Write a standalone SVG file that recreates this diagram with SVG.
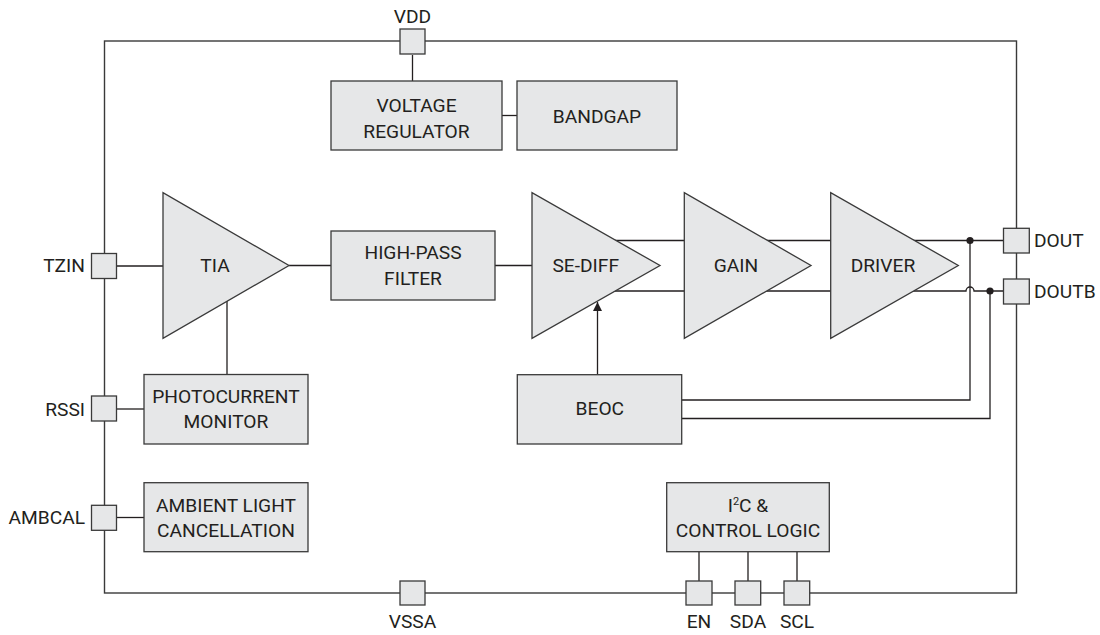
<svg xmlns="http://www.w3.org/2000/svg" width="1100" height="635" viewBox="0 0 1100 635">
<defs>
<style>
.blk{fill:#e6e7e8;stroke:#3a3a3a;stroke-width:1.3}
.pad{fill:#e6e7e8;stroke:#3a3a3a;stroke-width:1.3}
.w{fill:none;stroke:#231f20;stroke-width:1.3}
.b{fill:none;stroke:#3a3a3a;stroke-width:1.4}
text{font-family:Roboto,"Liberation Sans",sans-serif;font-size:19.2px;fill:#231f20}
.c{text-anchor:middle}
.e{text-anchor:end}
</style>
<marker id="arr" viewBox="0 0 10 10" refX="10" refY="5" markerWidth="9" markerHeight="9" markerUnits="userSpaceOnUse" orient="auto">
<path d="M0,0 L10,5 L0,10 z" fill="#231f20"/>
</marker>
</defs>
<rect x="0" y="0" width="1100" height="635" fill="#ffffff"/>
<g id="connectors">
<rect class="b" x="104.5" y="41" width="912" height="552"/>
<line class="w" x1="412.5" y1="55" x2="412.5" y2="81"/>
<line class="w" x1="502" y1="115.5" x2="517" y2="115.5"/>
<line class="w" x1="117" y1="266" x2="163" y2="266"/>
<line class="w" x1="289" y1="265.5" x2="331" y2="265.5"/>
<line class="w" x1="495" y1="265.5" x2="532" y2="265.5"/>
<line class="w" x1="227" y1="301" x2="227" y2="374.5"/>
<line class="w" x1="117" y1="409" x2="144" y2="409"/>
<line class="w" x1="117" y1="517.5" x2="144" y2="517.5"/>
<line class="w" x1="600" y1="240.5" x2="1004" y2="240.5"/>
<path class="w" d="M600,291 H966 A4,4 0 0 1 974,291 H1004"/>
<circle cx="970" cy="240.5" r="3.6" fill="#231f20"/>
<circle cx="990" cy="291" r="3.6" fill="#231f20"/>
<path class="w" d="M970,240.5 V400 H682"/>
<path class="w" d="M990,291 V418.5 H682"/>
<line class="w" x1="597.5" y1="374.5" x2="597.5" y2="302" marker-end="url(#arr)"/>
<line class="w" x1="699" y1="552" x2="699" y2="581"/>
<line class="w" x1="748" y1="552" x2="748" y2="581"/>
<line class="w" x1="797" y1="552" x2="797" y2="581"/>
</g>
<g id="vreg"><rect class="blk" x="331" y="81" width="171" height="69"/><text class="c" x="416.5" y="111.5">VOLTAGE</text><text class="c" x="416.5" y="137.5">REGULATOR</text></g>
<g id="bandgap"><rect class="blk" x="517" y="81" width="160" height="69"/><text class="c" x="597" y="122.5">BANDGAP</text></g>
<g id="tia"><polygon class="blk" points="163,192.7 163,338.3 289,265.5"/><text class="c" x="215" y="272">TIA</text></g>
<g id="hpf"><rect class="blk" x="331" y="231" width="164" height="69"/><text class="c" x="413" y="259">HIGH-PASS</text><text class="c" x="413" y="285.3">FILTER</text></g>
<g id="sediff"><polygon class="blk" points="532,192.7 532,338.3 660,265.5"/><text class="c" x="585.7" y="272">SE-DIFF</text></g>
<g id="gain"><polygon class="blk" points="684.3,192.7 684.3,338.3 811,265.5"/><text class="c" x="736" y="272">GAIN</text></g>
<g id="driver"><polygon class="blk" points="830.7,192.7 830.7,338.3 958.3,265.5"/><text class="c" x="883" y="272">DRIVER</text></g>
<g id="pcm"><rect class="blk" x="144" y="374.5" width="164" height="69.5"/><text class="c" x="226" y="402.7">PHOTOCURRENT</text><text class="c" x="226" y="428.3">MONITOR</text></g>
<g id="beoc"><rect class="blk" x="517.3" y="374.7" width="164.4" height="69.3"/><text class="c" x="599.8" y="415.3">BEOC</text></g>
<g id="alc"><rect class="blk" x="144" y="482.7" width="164" height="69"/><text class="c" x="226" y="511.7">AMBIENT LIGHT</text><text class="c" x="226" y="537.3">CANCELLATION</text></g>
<g id="i2c"><rect class="blk" x="666.7" y="482.7" width="162.6" height="69"/><text class="c" x="748" y="511.7">I<tspan font-size="11" dy="-7">2</tspan><tspan dy="7">C &amp;</tspan></text><text class="c" x="748" y="536.7">CONTROL LOGIC</text></g>
<g id="pin-vdd"><rect class="pad" x="400" y="29" width="25" height="25"/><text class="c" x="412.5" y="22.7">VDD</text></g>
<g id="pin-tzin"><rect class="pad" x="91.5" y="253.5" width="25" height="25"/><text class="e" x="85" y="272">TZIN</text></g>
<g id="pin-rssi"><rect class="pad" x="91.5" y="396" width="25" height="25"/><text class="e" x="85" y="415.7">RSSI</text></g>
<g id="pin-ambcal"><rect class="pad" x="91.5" y="505.3" width="25" height="25"/><text class="e" x="85" y="524">AMBCAL</text></g>
<g id="pin-vssa"><rect class="pad" x="400" y="581" width="25" height="24"/><text class="c" x="412.5" y="628">VSSA</text></g>
<g id="pin-en"><rect class="pad" x="686" y="581" width="26" height="24"/><text class="c" x="699" y="628">EN</text></g>
<g id="pin-sda"><rect class="pad" x="735" y="581" width="25.7" height="24"/><text class="c" x="748" y="628">SDA</text></g>
<g id="pin-scl"><rect class="pad" x="784" y="581" width="25.7" height="24"/><text class="c" x="797" y="628">SCL</text></g>
<g id="pin-dout"><rect class="pad" x="1003.5" y="228.3" width="25.8" height="24.7"/><text x="1034" y="247">DOUT</text></g>
<g id="pin-doutb"><rect class="pad" x="1003.5" y="279" width="25.8" height="25"/><text x="1034" y="297.5">DOUTB</text></g>
</svg>
